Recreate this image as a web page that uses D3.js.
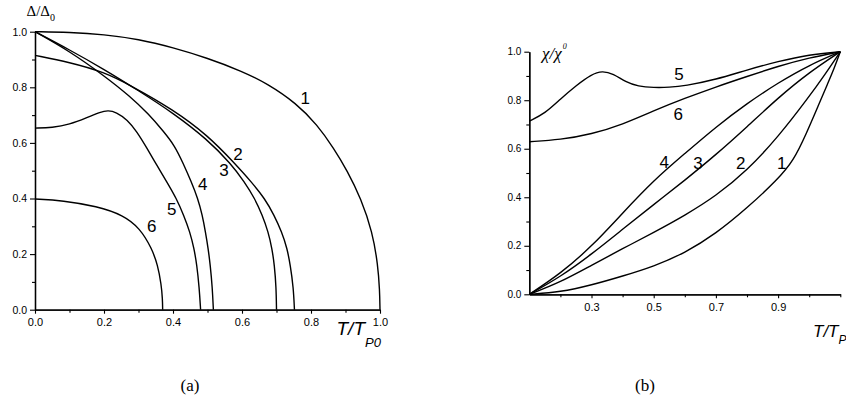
<!DOCTYPE html>
<html><head><meta charset="utf-8">
<script src="https://cdn.jsdelivr.net/npm/d3@7"></script>
<style>body{margin:0;background:#fff}svg{display:block}</style>
</head><body>
<svg id="fig" width="846" height="416"></svg>
<script>
// ---- Panel (a): order parameter Δ/Δ0 versus T/T_P0 ----
const gapT1 = [0, 0.1, 0.2, 0.3, 0.4, 0.5, 0.6, 0.672, 0.758, 0.818, 0.866, 0.905, 0.945, 0.978, 0.994, 0.999, 1.0];
const gapD1 = [1.0, 0.998, 0.99, 0.973, 0.943, 0.905, 0.858, 0.814, 0.742, 0.665, 0.581, 0.50, 0.40, 0.28, 0.16, 0.07, 0.0];
const gapT2 = [0, 0.1, 0.2, 0.28, 0.4, 0.5, 0.58, 0.627, 0.666, 0.693, 0.715, 0.731, 0.740, 0.749, 0.752];
const gapD2 = [0.915, 0.89, 0.855, 0.805, 0.72, 0.628, 0.525, 0.46, 0.40, 0.34, 0.28, 0.22, 0.16, 0.08, 0.0];
const gapT3 = [0, 0.1, 0.2, 0.3, 0.4, 0.5, 0.568, 0.607, 0.637, 0.659, 0.676, 0.687, 0.694, 0.699, 0.700];
const gapD3 = [1.0, 0.935, 0.865, 0.788, 0.708, 0.612, 0.525, 0.46, 0.40, 0.34, 0.28, 0.22, 0.16, 0.08, 0.0];
const gapT4 = [0, 0.1, 0.2, 0.275, 0.33, 0.372, 0.405, 0.43, 0.453, 0.472, 0.485, 0.494, 0.502, 0.508, 0.514, 0.517];
const gapD4 = [1.0, 0.93, 0.842, 0.768, 0.703, 0.642, 0.59, 0.525, 0.46, 0.40, 0.34, 0.28, 0.22, 0.16, 0.08, 0.0];
const gapT5 = [0, 0.05, 0.1, 0.15, 0.19, 0.212, 0.235, 0.268, 0.295, 0.325, 0.353, 0.382, 0.41, 0.431, 0.449, 0.461, 0.469, 0.476, 0.48];
const gapD5 = [0.653, 0.655, 0.666, 0.69, 0.712, 0.717, 0.711, 0.683, 0.641, 0.58, 0.52, 0.46, 0.40, 0.34, 0.28, 0.22, 0.162, 0.08, 0.0];
const gapT6 = [0, 0.08, 0.18, 0.256, 0.304, 0.338, 0.356, 0.366, 0.3695, 0.37];
const gapD6 = [0.398, 0.393, 0.372, 0.34, 0.293, 0.222, 0.16, 0.09, 0.04, 0.0];
const gapLabels = ["1", "2", "3", "4", "5", "6"];
// label anchor points (T, Δ) beside each curve
const gapLabelT = [0.783, 0.588, 0.548, 0.486, 0.396, 0.338];
const gapLabelD = [0.76, 0.56, 0.50, 0.45, 0.36, 0.30];

// ---- Panel (b): susceptibility χ/χ0 versus T/T_P ----
const chiX1 = [0.1, 0.2, 0.3, 0.4, 0.5, 0.6, 0.7, 0.8, 0.9, 0.95, 0.99, 1.03, 1.06, 1.08, 1.1];
const chiY1 = [0, 0.009, 0.038, 0.075, 0.115, 0.17, 0.25, 0.355, 0.475, 0.552, 0.66, 0.78, 0.87, 0.93, 1.0];
const chiX2 = [0.1, 0.2, 0.3, 0.4, 0.5, 0.6, 0.7, 0.8, 0.9, 1.0, 1.05, 1.1];
const chiY2 = [0, 0.05, 0.12, 0.188, 0.255, 0.325, 0.405, 0.51, 0.648, 0.815, 0.905, 1.0];
const chiX3 = [0.1, 0.2, 0.3, 0.4, 0.5, 0.6, 0.7, 0.8, 0.9, 1.0, 1.1];
const chiY3 = [0, 0.072, 0.165, 0.268, 0.37, 0.47, 0.575, 0.69, 0.81, 0.915, 1.0];
const chiX4 = [0.1, 0.2, 0.3, 0.4, 0.5, 0.6, 0.7, 0.8, 0.9, 1.0, 1.1];
const chiY4 = [0, 0.085, 0.196, 0.335, 0.47, 0.58, 0.69, 0.787, 0.872, 0.945, 1.0];
const chiX5 = [0.1, 0.15, 0.2, 0.25, 0.3, 0.335, 0.37, 0.41, 0.45, 0.5, 0.55, 0.6, 0.7, 0.8, 0.9, 1.0, 1.1];
const chiY5 = [0.714, 0.745, 0.805, 0.86, 0.907, 0.921, 0.909, 0.875, 0.857, 0.852, 0.853, 0.859, 0.885, 0.925, 0.96, 0.988, 1.0];
const chiX6 = [0.1, 0.2, 0.3, 0.4, 0.5, 0.6, 0.7, 0.8, 0.9, 1.0, 1.1];
const chiY6 = [0.629, 0.637, 0.66, 0.70, 0.757, 0.808, 0.855, 0.898, 0.94, 0.975, 1.0];
const chiLabels = ["1", "2", "3", "4", "5", "6"];
const chiLabelX = [0.912, 0.780, 0.642, 0.534, 0.581, 0.579];
const chiLabelY = [0.541, 0.541, 0.541, 0.545, 0.904, 0.742];

// tick values
const gapMajor = [0, 0.2, 0.4, 0.6, 0.8, 1.0];
const gapMinor = [0.1, 0.3, 0.5, 0.7, 0.9];
const chiXMajor = [0.3, 0.5, 0.7, 0.9];
const chiXMinor = [0.2, 0.4, 0.6, 0.8, 1.0, 1.1];
const chiYMajor = [0, 0.2, 0.4, 0.6, 0.8, 1.0];
const chiYMinor = [0.1, 0.3, 0.5, 0.7, 0.9];

const svg = d3.select("#fig");
const SANS = "Liberation Sans, Arial, Helvetica, sans-serif";
const SERIF = "Liberation Serif, Times New Roman, serif";

// smooth B-spline through the sampled points
const line = (sx, sy) => d3.line()
  .x(d => sx(d[0])).y(d => sy(d[1]))
  .curve(d3.curveBasis);
const zip = (a, b) => a.map((v, i) => [v, b[i]]);

function drawAxes(g, sx, sy, xMajor, xMinor, yMajor, yMinor, xFont, yFont) {
  const fmt = d3.format(".1f");
  const styleAxis = sel => {
    sel.select(".domain").attr("stroke", "#000").attr("stroke-width", 1.3);
    sel.selectAll(".tick line").attr("stroke", "#000").attr("stroke-width", 1.1);
  };
  g.append("g").attr("transform", `translate(0,${sy(0)})`)
    .call(d3.axisBottom(sx).tickValues(xMinor).tickSize(3).tickSizeOuter(0).tickFormat(""))
    .call(styleAxis);
  g.append("g").attr("transform", `translate(0,${sy(0)})`)
    .call(d3.axisBottom(sx).tickValues(xMajor).tickSize(4).tickSizeOuter(0).tickPadding(5).tickFormat(fmt))
    .call(styleAxis)
    .call(s => s.selectAll("text").attr("font-family", SANS).attr("font-size", xFont).attr("fill", "#000"));
  g.append("g").attr("transform", `translate(${sx.range()[0]},0)`)
    .call(d3.axisLeft(sy).tickValues(yMinor).tickSize(3).tickSizeOuter(0).tickFormat(""))
    .call(styleAxis);
  g.append("g").attr("transform", `translate(${sx.range()[0]},0)`)
    .call(d3.axisLeft(sy).tickValues(yMajor).tickSize(5).tickSizeOuter(0).tickPadding(3).tickFormat(fmt))
    .call(styleAxis)
    .call(s => s.selectAll("text").attr("font-family", SANS).attr("font-size", yFont).attr("fill", "#000"));
}

// ---------- panel (a) ----------
const xa = d3.scaleLinear().domain([0, 1]).range([35, 380]);
const ya = d3.scaleLinear().domain([0, 1]).range([309.7, 31.7]);
const ga = svg.append("g");
drawAxes(ga, xa, ya, gapMajor, gapMinor, gapMajor, gapMinor, 11, 10.5);

const gapSeries = [zip(gapT1, gapD1), zip(gapT2, gapD2), zip(gapT3, gapD3),
                   zip(gapT4, gapD4), zip(gapT5, gapD5), zip(gapT6, gapD6)];
ga.selectAll("path.curve").data(gapSeries).enter().append("path")
  .attr("class", "curve").attr("d", line(xa, ya))
  .attr("fill", "none").attr("stroke", "#000").attr("stroke-width", 1.4);
ga.selectAll("text.lab").data(gapLabels).enter().append("text")
  .attr("class", "lab")
  .attr("x", (d, i) => xa(gapLabelT[i])).attr("y", (d, i) => ya(gapLabelD[i]))
  .attr("text-anchor", "middle").attr("dominant-baseline", "central")
  .attr("font-family", SANS).attr("font-size", 17).text(d => d);

// axis titles (a)
const ta = ga.append("text").attr("x", 26.5).attr("y", 15.5)
  .attr("font-family", SERIF).attr("font-size", 15);
ta.append("tspan").text("Δ/Δ");
ta.append("tspan").attr("font-size", 10).attr("dy", 5).text("0");
const xta = ga.append("text").attr("x", 336.5).attr("y", 335)
  .attr("font-family", SANS).attr("font-style", "italic").attr("font-size", 19);
xta.append("tspan").text("T/T");
xta.append("tspan").attr("font-size", 13).attr("dy", 12).text("P0");

// ---------- panel (b) ----------
const xb = d3.scaleLinear().domain([0.1, 1.1]).range([529.3, 840.3]);
const yb = d3.scaleLinear().domain([0, 1]).range([294.3, 51.7]);
const gb = svg.append("g");
drawAxes(gb, xb, yb, chiXMajor, chiXMinor, chiYMajor, chiYMinor, 11, 10);

const chiSeries = [zip(chiX1, chiY1), zip(chiX2, chiY2), zip(chiX3, chiY3),
                   zip(chiX4, chiY4), zip(chiX5, chiY5), zip(chiX6, chiY6)];
gb.selectAll("path.curve").data(chiSeries).enter().append("path")
  .attr("class", "curve").attr("d", line(xb, yb))
  .attr("fill", "none").attr("stroke", "#000").attr("stroke-width", 1.4);
gb.selectAll("text.lab").data(chiLabels).enter().append("text")
  .attr("class", "lab")
  .attr("x", (d, i) => xb(chiLabelX[i])).attr("y", (d, i) => yb(chiLabelY[i]))
  .attr("text-anchor", "middle").attr("dominant-baseline", "central")
  .attr("font-family", SANS).attr("font-size", 17).text(d => d);

const tb = gb.append("text").attr("x", 542).attr("y", 59)
  .attr("font-family", SERIF).attr("font-style", "italic").attr("font-size", 17);
tb.append("tspan").text("χ/χ");
tb.append("tspan").attr("font-size", 8).attr("dy", -10).attr("dx", 1).text("0");
const xtb = gb.append("text").attr("x", 813).attr("y", 337)
  .attr("font-family", SANS).attr("font-style", "italic").attr("font-size", 17);
xtb.append("tspan").text("T/T");
xtb.append("tspan").attr("font-size", 12).attr("dy", 7).text("P");

// captions
svg.append("text").attr("x", 190).attr("y", 391).attr("text-anchor", "middle")
  .attr("font-family", SERIF).attr("font-size", 17).text("(a)");
svg.append("text").attr("x", 645).attr("y", 391).attr("text-anchor", "middle")
  .attr("font-family", SERIF).attr("font-size", 17).text("(b)");
</script>
</body></html>
